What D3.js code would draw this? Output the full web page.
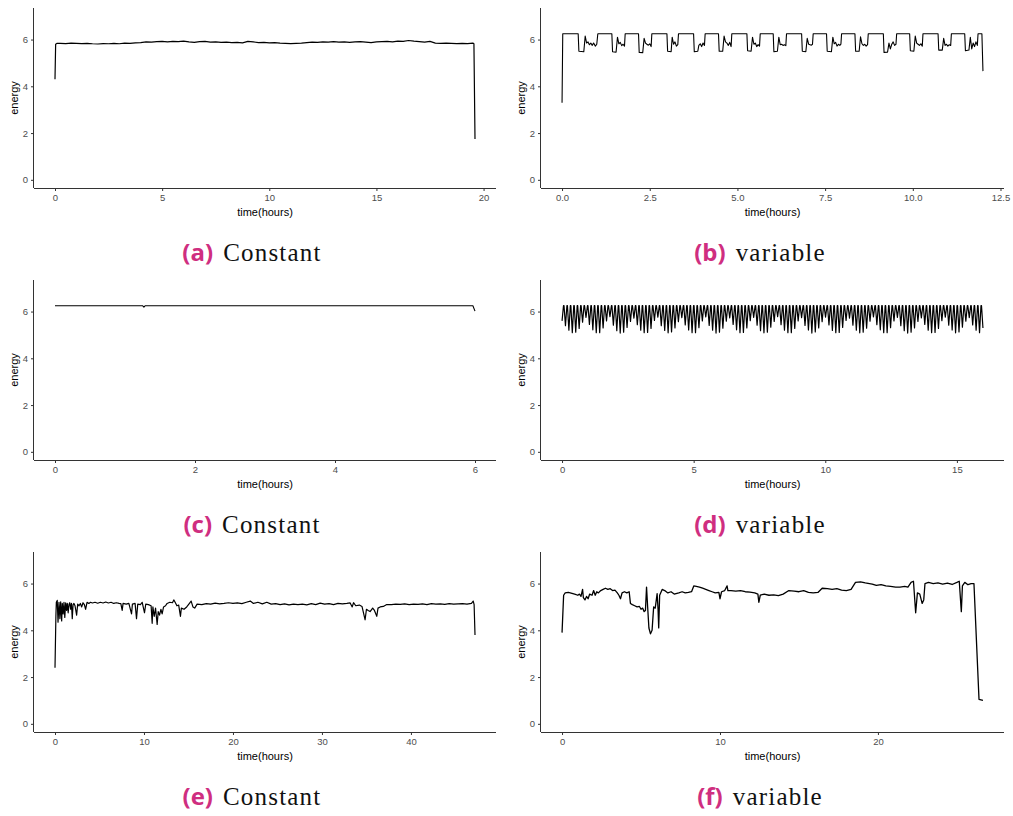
<!DOCTYPE html>
<html><head><meta charset="utf-8">
<script src="https://cdn.jsdelivr.net/npm/d3@7"></script>
<style>body{margin:0;background:#fff}svg{display:block}</style>
</head><body>
<svg id="chart" width="1013" height="816"></svg>
<script>
// ---------------- data ----------------
const yTicks = [0, 2, 4, 6];
const aTicks = [0, 5, 10, 15, 20];
const bTicks = [0, 2.5, 5, 7.5, 10, 12.5];
const cTicks = [0, 2, 4, 6];
const dTicks = [0, 5, 10, 15];
const eTicks = [0, 10, 20, 30, 40];
const fTicks = [0, 10, 20];
const captionLetters = ["(a)", "(b)", "(c)", "(d)", "(e)", "(f)"];
const captionWords = ["Constant", "variable", "Constant", "variable", "Constant", "variable"];

const aData = [[0,4.3],[0.03,5.8],[0.1,5.84],[0.25,5.84],[0.5,5.83],[0.75,5.85],[1.0,5.84],[1.25,5.83],[1.5,5.84],[1.75,5.82],[2.0,5.81],[2.25,5.83],[2.5,5.82],[2.75,5.84],[3.0,5.82],[3.25,5.85],[3.5,5.84],[3.75,5.86],[4.0,5.87],[4.25,5.9],[4.5,5.89],[4.75,5.91],[5.0,5.92],[5.25,5.9],[5.5,5.92],[5.75,5.91],[6.0,5.93],[6.25,5.9],[6.5,5.88],[6.75,5.91],[7.0,5.92],[7.25,5.89],[7.5,5.9],[7.75,5.88],[8.0,5.89],[8.25,5.87],[8.5,5.88],[8.75,5.86],[9.0,5.92],[9.25,5.9],[9.5,5.87],[9.75,5.88],[10.0,5.86],[10.25,5.87],[10.5,5.85],[10.75,5.84],[11.0,5.83],[11.25,5.84],[11.5,5.85],[11.75,5.87],[12.0,5.89],[12.25,5.88],[12.5,5.9],[12.75,5.89],[13.0,5.91],[13.25,5.89],[13.5,5.9],[13.75,5.88],[14.0,5.9],[14.25,5.91],[14.5,5.89],[14.75,5.87],[15.0,5.9],[15.25,5.91],[15.5,5.92],[15.75,5.9],[16.0,5.93],[16.25,5.92],[16.5,5.96],[16.75,5.93],[17.0,5.91],[17.25,5.89],[17.5,5.92],[17.75,5.85],[18.0,5.84],[18.25,5.85],[18.5,5.84],[18.75,5.83],[19.0,5.84],[19.25,5.83],[19.5,5.85],[19.55,5.82],[19.6,1.75]];

const bData = [[0,3.3],[0.02,6.25],[0.46,6.25],[0.48,5.5],[0.62,5.48],[0.66,6.15],[0.7,5.85],[0.74,5.9],[0.78,5.78],[0.82,5.85],[0.86,5.75],[0.9,5.85],[0.95,5.72],[0.99,5.8],
[1.02,6.25],[1.42,6.25],[1.44,5.48],[1.54,5.46],[1.58,6.1],[1.62,5.82],[1.66,5.88],[1.7,5.74],[1.74,5.8],[1.78,5.72],
[1.8,6.25],[2.18,6.25],[2.2,5.45],[2.3,5.44],[2.34,6.05],[2.38,5.85],[2.42,5.8],[2.46,5.76],[2.5,5.82],[2.54,5.7],
[2.56,6.25],[2.99,6.25],[3.01,5.5],[3.11,5.48],[3.14,6.1],[3.18,5.8],[3.22,5.9],[3.26,5.72],[3.3,5.78],
[3.32,6.25],[3.75,6.25],[3.77,5.48],[3.87,5.5],[3.9,5.75],[3.94,5.82],[3.98,5.7],[4.02,5.85],[4.06,5.75],
[4.08,6.25],[4.46,6.25],[4.48,5.5],[4.58,5.5],[4.62,6.15],[4.66,5.9],[4.7,5.85],[4.74,5.75],[4.78,5.88],[4.82,5.7],
[4.84,6.25],[5.27,6.25],[5.29,5.52],[5.39,5.5],[5.43,6.1],[5.47,5.8],[5.51,5.85],[5.55,5.7],[5.59,5.78],[5.63,5.72],
[5.65,6.25],[6.02,6.25],[6.04,5.48],[6.14,5.5],[6.18,6.1],[6.22,5.78],[6.26,5.8],[6.3,5.75],[6.34,5.78],[6.38,5.74],
[6.4,6.25],[6.83,6.25],[6.85,5.5],[6.95,5.48],[6.99,6.05],[7.03,5.8],[7.07,5.78],[7.11,5.76],[7.14,5.8],
[7.16,6.25],[7.54,6.25],[7.56,5.5],[7.68,5.48],[7.72,6.1],[7.76,5.82],[7.8,5.88],[7.84,5.72],[7.88,5.8],[7.92,5.75],[7.95,5.8],
[7.97,6.25],[8.35,6.25],[8.37,5.5],[8.47,5.5],[8.51,6.12],[8.55,5.82],[8.59,5.75],[8.63,5.8],[8.67,5.72],[8.71,5.78],
[8.73,6.25],[9.16,6.25],[9.18,5.45],[9.28,5.46],[9.32,5.85],[9.36,5.6],[9.4,5.8],[9.44,5.9],[9.48,5.75],[9.52,5.8],
[9.54,6.25],[9.91,6.25],[9.93,5.52],[10.03,5.5],[10.07,6.15],[10.11,5.85],[10.15,5.8],[10.19,5.75],[10.23,5.82],[10.27,5.72],
[10.29,6.25],[10.72,6.25],[10.74,5.55],[10.84,5.55],[10.88,6.05],[10.92,5.75],[10.96,5.8],[11.0,5.72],[11.04,5.78],[11.08,5.75],
[11.1,6.25],[11.48,6.25],[11.5,5.52],[11.6,5.55],[11.64,6.1],[11.68,5.6],[11.72,5.85],[11.76,5.7],[11.8,5.9],[11.84,5.75],
[11.86,6.25],[11.97,6.25],[12.0,4.65]];

const cData = [[0,6.25],[1.25,6.25],[1.27,6.19],[1.29,6.25],[5.97,6.25],[6.0,6.02]];

const dPeak = 6.25;
const dTimes = [0.00,0.13,0.26,0.39,0.52,0.65,0.78,0.91,1.04,1.17,1.30,1.43,1.56,1.69,1.82,1.95,2.08,2.21,2.34,2.47,2.60,2.73,2.86,2.99,3.12,3.25,3.38,3.51,3.64,3.77,3.90,4.03,4.16,4.29,4.42,4.55,4.68,4.81,4.94,5.07,5.20,5.33,5.46,5.59,5.72,5.85,5.98,6.11,6.24,6.37,6.50,6.63,6.76,6.89,7.02,7.15,7.28,7.41,7.54,7.67,7.80,7.93,8.06,8.19,8.32,8.45,8.58,8.71,8.84,8.97,9.10,9.23,9.36,9.49,9.62,9.75,9.88,10.01,10.14,10.27,10.40,10.53,10.66,10.79,10.92,11.05,11.18,11.31,11.44,11.57,11.70,11.83,11.96,12.09,12.22,12.35,12.48,12.61,12.74,12.87,13.00,13.13,13.26,13.39,13.52,13.65,13.78,13.91,14.04,14.17,14.30,14.43,14.56,14.69,14.82,14.95,15.08,15.21,15.34,15.47,15.60,15.73,15.86,15.99];
const dMins = [5.6,5.4,5.2,5.1,5.12,5.28,5.55,
5.75,5.45,5.22,5.1,5.1,5.3,5.6,
5.78,5.42,5.18,5.08,5.12,5.32,5.58,
5.72,5.44,5.2,5.1,5.11,5.28,5.62,
5.76,5.4,5.19,5.09,5.13,5.3,5.57,
5.74,5.43,5.21,5.1,5.1,5.31,5.6,
5.77,5.41,5.2,5.08,5.12,5.29,5.59,
5.73,5.45,5.22,5.1,5.11,5.3,5.61,
5.75,5.42,5.18,5.09,5.12,5.33,5.58,
5.78,5.44,5.2,5.1,5.1,5.28,5.6,
5.74,5.41,5.21,5.08,5.13,5.3,5.57,
5.76,5.43,5.19,5.1,5.11,5.32,5.62,
5.72,5.42,5.2,5.09,5.12,5.29,5.59,
5.77,5.44,5.22,5.1,5.1,5.31,5.6,
5.75,5.4,5.18,5.08,5.12,5.3,5.58,
5.73,5.45,5.2,5.1,5.11,5.28,5.61,
5.76,5.42,5.21,5.09,5.13,5.33,5.59,
5.74,5.43,5.2,5.1,5.3];

const eData = [[0,2.4],[0.1,4.6],[0.15,5.2],[0.25,5.28],[0.34,4.35],[0.45,5.2],[0.55,4.5],[0.64,5.22],[0.75,4.4],[0.82,5.15],[0.92,4.7],[1.01,5.2],[1.1,4.55],[1.2,5.18],[1.3,4.85],[1.38,5.15],[1.48,4.75],[1.57,5.1],[1.66,5.18],[1.76,4.9],[1.85,5.15],[1.94,4.5],[2.03,5.1],[2.13,5.15],[2.25,5.05],[2.43,4.65],[2.55,5.12],[2.7,5.05],[2.85,5.15],[3.0,5.0],[3.15,5.18],[3.3,5.1],[3.44,4.9],[3.6,5.2],[3.8,5.15],[4.0,5.2],[4.2,5.17],[4.5,5.2],[4.8,5.16],[5.1,5.2],[5.4,5.17],[5.7,5.21],[6.0,5.17],[6.3,5.2],[6.6,5.15],[6.9,5.18],[7.2,5.15],[7.4,5.14],[7.55,4.85],[7.65,5.15],[8.0,5.12],[8.3,5.15],[8.6,4.7],[8.7,5.12],[9.0,5.15],[9.16,4.5],[9.3,5.12],[9.6,5.1],[9.8,5.2],[10.06,4.75],[10.2,5.12],[10.5,5.1],[10.8,5.05],[10.92,4.3],[11.0,5.0],[11.15,4.6],[11.3,4.95],[11.48,4.25],[11.6,4.8],[11.75,4.65],[11.9,4.9],[12.04,4.7],[12.2,5.0],[12.42,5.05],[12.6,5.15],[12.9,5.2],[13.2,5.18],[13.35,5.3],[13.5,5.2],[13.7,5.05],[13.9,5.08],[14.1,4.6],[14.2,4.95],[14.5,4.9],[14.8,5.0],[15.0,5.1],[15.3,5.25],[15.5,5.0],[15.7,4.95],[15.97,5.12],[16.5,5.1],[17,5.14],[17.5,5.12],[18,5.16],[18.5,5.13],[19,5.15],[19.5,5.18],[20,5.15],[20.5,5.17],[21,5.14],[21.5,5.2],[21.95,5.25],[22.3,5.15],[22.8,5.2],[23.3,5.13],[23.8,5.2],[24.3,5.12],[24.8,5.14],[25.3,5.1],[25.8,5.13],[26.3,5.09],[26.8,5.12],[27.3,5.1],[27.8,5.12],[28.3,5.09],[28.8,5.14],[29.3,5.1],[29.8,5.16],[30.3,5.12],[30.8,5.14],[31.3,5.1],[31.8,5.15],[32.3,5.13],[32.8,5.15],[33.17,5.17],[33.4,5.0],[33.55,5.18],[33.8,5.05],[34.2,5.08],[34.5,5.02],[34.85,4.45],[35.0,4.9],[35.2,4.85],[35.41,4.8],[35.7,4.95],[35.9,4.85],[36.16,4.6],[36.3,4.95],[36.54,5.0],[36.9,5.02],[37.28,5.1],[37.8,5.1],[38.3,5.12],[38.8,5.11],[39.3,5.13],[39.8,5.1],[40.3,5.12],[40.8,5.11],[41.3,5.13],[41.8,5.1],[42.3,5.14],[42.8,5.12],[43.3,5.13],[43.8,5.11],[44.3,5.14],[44.8,5.12],[45.3,5.13],[45.8,5.14],[46.3,5.12],[46.8,5.15],[47.0,5.25],[47.1,5.1],[47.2,3.8]];

const fData = [[0,3.9],[0.1,5.5],[0.2,5.6],[0.4,5.62],[0.63,5.58],[0.8,5.55],[1.0,5.5],[1.1,5.55],[1.2,5.45],[1.3,5.75],[1.35,5.4],[1.45,5.3],[1.55,5.45],[1.65,5.35],[1.75,5.55],[1.9,5.5],[2.0,5.7],[2.1,5.5],[2.2,5.65],[2.3,5.6],[2.45,5.7],[2.6,5.75],[2.75,5.8],[2.9,5.75],[3.05,5.78],[3.2,5.7],[3.35,5.72],[3.5,5.6],[3.6,5.5],[3.7,5.35],[3.8,5.6],[3.95,5.65],[4.1,5.6],[4.25,5.65],[4.33,5.15],[4.45,5.1],[4.6,5.05],[4.75,5.0],[4.9,5.02],[5.0,4.9],[5.1,4.95],[5.2,4.8],[5.28,4.85],[5.35,5.85],[5.42,5.0],[5.5,4.1],[5.6,3.85],[5.7,4.0],[5.8,5.0],[5.9,4.95],[6.02,5.57],[6.08,4.9],[6.12,4.1],[6.18,5.5],[6.34,5.75],[6.5,5.7],[6.7,5.6],[6.9,5.65],[7.1,5.55],[7.39,5.6],[7.6,5.65],[7.8,5.6],[8.0,5.62],[8.2,5.65],[8.34,5.9],[8.5,5.88],[8.7,5.85],[8.9,5.8],[9.1,5.75],[9.3,5.7],[9.5,5.65],[9.7,5.6],[9.93,5.62],[10.0,5.35],[10.1,5.65],[10.3,5.7],[10.45,5.9],[10.5,5.7],[10.7,5.7],[11.0,5.68],[11.3,5.7],[11.6,5.65],[11.9,5.63],[12.2,5.6],[12.4,5.55],[12.46,5.2],[12.55,5.5],[12.8,5.55],[13.1,5.5],[13.4,5.52],[13.7,5.48],[14.0,5.55],[14.36,5.7],[14.7,5.68],[15.0,5.65],[15.3,5.7],[15.6,5.62],[15.9,5.6],[16.2,5.62],[16.47,5.8],[16.8,5.78],[17.1,5.75],[17.4,5.78],[17.7,5.72],[18.0,5.7],[18.3,5.75],[18.58,6.05],[18.9,6.07],[19.2,6.03],[19.64,5.98],[19.9,5.92],[20.2,5.95],[20.5,5.9],[20.8,5.88],[21.12,5.85],[21.4,5.85],[21.7,5.88],[21.9,5.85],[22.1,6.05],[22.25,6.1],[22.39,4.75],[22.5,5.6],[22.65,5.55],[22.8,5.15],[22.9,5.3],[22.98,6.0],[23.2,6.05],[23.5,6.0],[23.8,6.03],[24.1,5.98],[24.4,6.02],[24.7,5.96],[25.0,6.05],[25.15,6.1],[25.28,4.8],[25.35,5.9],[25.5,6.05],[25.7,5.95],[25.9,6.0],[26.08,6.0],[26.4,1.05],[26.65,1.0]];

// build the (d) sawtooth path: drop to each typed tooth minimum and recover to the peak
const dData = [];
dTimes.forEach((t, i) => {
  if (i > 0) dData.push([t - 0.055, dPeak]);
  dData.push([t, dMins[i]]);
  if (i < dTimes.length - 1) dData.push([t + 0.055, dPeak]);
});

// ---------------- layout ----------------
const svg = d3.select("#chart");
const cols = [{l: 34, r: 496, capX: 252, titleX: 18}, {l: 541, r: 1004, capX: 760, titleX: 525}];
const rows = [{t: 8, b: 188, capY: 261}, {t: 280, b: 460, capY: 533}, {t: 552, b: 732, capY: 805}];

const panels = [
  {data: aData, ticks: aTicks, fmt: d3.format("d"), col: 0, row: 0, sw: 1.2},
  {data: bData, ticks: bTicks, fmt: d3.format(".1f"), col: 1, row: 0, sw: 1.1},
  {data: cData, ticks: cTicks, fmt: d3.format("d"), col: 0, row: 1, sw: 1.1},
  {data: dData, ticks: dTicks, fmt: d3.format("d"), col: 1, row: 1, sw: 1.2},
  {data: eData, ticks: eTicks, fmt: d3.format("d"), col: 0, row: 2, sw: 1.2},
  {data: fData, ticks: fTicks, fmt: d3.format("d"), col: 1, row: 2, sw: 1.3},
];

const axisColor = "#333";
const tickTextColor = "#4d4d4d";

panels.forEach((p, i) => {
  const c = cols[p.col], r = rows[p.row];
  const ext = d3.extent(p.data, d => d[0]);
  const pad = (ext[1] - ext[0]) * 0.05;
  const x = d3.scaleLinear().domain([ext[0] - pad, ext[1] + pad]).range([c.l, c.r]);
  const y = d3.scaleLinear().domain([-0.35, 7.35]).range([r.b, r.t]);
  const g = svg.append("g");

  g.append("path").datum(p.data)
    .attr("fill", "none").attr("stroke", "#000").attr("stroke-width", p.sw)
    .attr("stroke-linejoin", "round")
    .attr("d", d3.line().x(d => x(d[0])).y(d => y(d[1])));

  const xa = g.append("g").attr("transform", `translate(0,${r.b})`)
    .call(d3.axisBottom(x).tickValues(p.ticks).tickFormat(p.fmt).tickSize(3).tickPadding(3).tickSizeOuter(0));
  const ya = g.append("g").attr("transform", `translate(${c.l},0)`)
    .call(d3.axisLeft(y).tickValues(yTicks).tickFormat(d3.format("d")).tickSize(3).tickPadding(3).tickSizeOuter(0));
  [xa, ya].forEach(ax => {
    ax.select(".domain").attr("stroke", axisColor).attr("stroke-width", 1);
    ax.selectAll(".tick line").attr("stroke", axisColor);
    ax.selectAll(".tick text").attr("fill", tickTextColor)
      .style("font-family", "'Liberation Sans', Arial, sans-serif").style("font-size", "9.5px");
  });
  xa.select(".domain").attr("d", `M${c.l},0.5H${c.r}`);
  ya.select(".domain").attr("d", `M-0.5,${r.b}V${r.t}`);

  g.append("text").attr("x", (c.l + c.r) / 2).attr("y", r.b + 28)
    .attr("text-anchor", "middle").style("font-family", "'Liberation Sans', Arial, sans-serif")
    .style("font-size", "11px").attr("fill", "#000").text("time(hours)");
  g.append("text").attr("transform", `translate(${c.titleX},${(r.t + r.b) / 2}) rotate(-90)`)
    .attr("text-anchor", "middle").style("font-family", "'Liberation Sans', Arial, sans-serif")
    .style("font-size", "11px").attr("fill", "#000").text("energy");

  const cap = svg.append("text").attr("x", c.capX).attr("y", r.capY).attr("text-anchor", "middle");
  cap.append("tspan").text(captionLetters[i])
    .style("font-family", "'Open Sans', 'DejaVu Sans', sans-serif").style("font-weight", "700")
    .style("font-size", "24px").attr("fill", "#cf2e80");
  cap.append("tspan").attr("dx", 10).text(captionWords[i])
    .style("font-family", "'Liberation Serif', 'Times New Roman', serif")
    .style("font-size", "25px").style("letter-spacing", "1.2px").attr("fill", "#111");
});
</script>
</body></html>
